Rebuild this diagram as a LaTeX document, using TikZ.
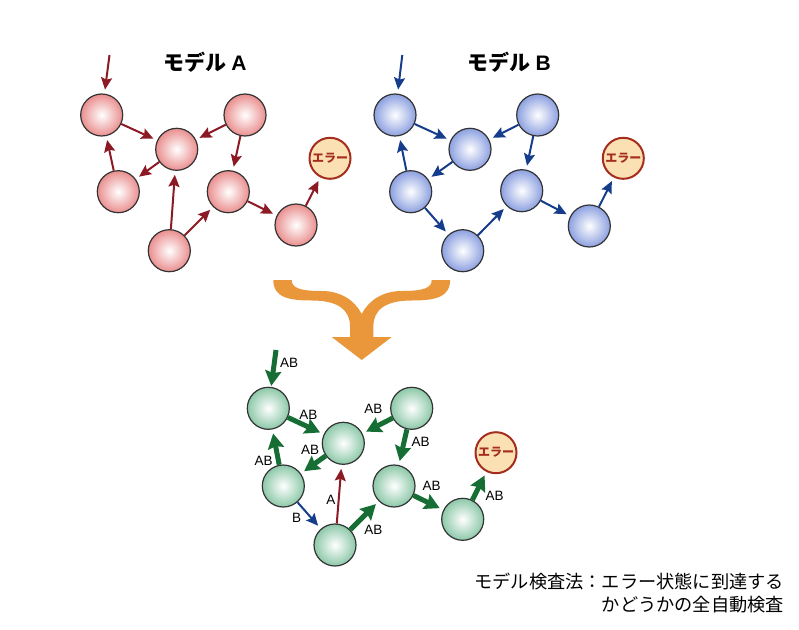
\documentclass[tikz,border=0pt]{standalone}
\usepackage{fontspec}
\setmainfont{Noto Sans CJK JP}
\newfontfamily\latinfont{Liberation Sans}
\usetikzlibrary{arrows.meta}

\definecolor{redA}{RGB}{140,26,36}
\definecolor{blueB}{RGB}{22,60,140}
\definecolor{greenAB}{RGB}{22,110,52}
\definecolor{pinkfill}{RGB}{234,142,142}
\definecolor{bluefill}{RGB}{140,160,224}
\definecolor{greenfill}{RGB}{140,200,168}
\definecolor{errfill}{RGB}{250,224,178}
\definecolor{errline}{RGB}{165,45,30}
\definecolor{mergeorange}{RGB}{234,151,59}

\tikzset{
  state/.style={circle, draw=black!80, line width=1.2pt, minimum size=42pt, inner sep=0pt},
  stateA/.style={state, inner color=white, outer color=pinkfill},
  stateB/.style={state, inner color=white, outer color=bluefill},
  stateAB/.style={state, inner color=white, outer color=greenfill},
  errnode/.style={circle, draw=errline, line width=2pt, fill=errfill, minimum size=41pt, inner sep=0pt,
    text=errline, font=\fontsize{12}{12}\selectfont\bfseries},
  arrA/.style={line width=2pt, draw=redA, fill=redA, -{Stealth[length=12pt,width=11pt,inset=2pt]}, shorten >=4pt},
  arrB/.style={line width=2pt, draw=blueB, fill=blueB, -{Stealth[length=12pt,width=11pt,inset=2pt]}, shorten >=4pt},
  arrAB/.style={line width=5pt, draw=greenAB, fill=greenAB, -{Stealth[length=15pt,width=16pt,inset=2pt]}, shorten >=4pt},
  lbl/.style={font=\latinfont\fontsize{13.5}{13.5}\selectfont, inner sep=0pt},
  title/.style={font=\fontsize{21}{21}\selectfont\bfseries, inner sep=0pt}
}

\begin{document}
\begin{tikzpicture}[x=1pt, y=-1pt]
\useasboundingbox (0,0) rectangle (799,629);

% Model A
\node[title] (titleA) at (205,62.5) {モデル\hspace{5pt}{\latinfont A}};
\coordinate (inA) at (109.5,55);
\node[stateA] (a1) at (101.7,115) {};
\node[stateA] (a2) at (176.7,149.3) {};
\node[stateA] (a3) at (245,115) {};
\node[stateA] (a4) at (118.3,191.7) {};
\node[stateA] (a5) at (228.3,191.7) {};
\node[stateA] (a6) at (169.3,250.7) {};
\node[stateA] (a7) at (296,225) {};
\node[errnode] (errA) at (330,158.3) {エラー};

\draw[arrA] (inA) -- (a1);
\draw[arrA] (a1) -- (a2);
\draw[arrA] (a3) -- (a2);
\draw[arrA] (a2) -- (a4);
\draw[arrA] (a4) -- (a1);
\draw[arrA] (a3) -- (a5);
\draw[arrA] (a6) -- (a2);
\draw[arrA] (a6) -- (a5);
\draw[arrA] (a5) -- (a7);
\draw[arrA] (a7) -- (errA);

% Model B
\node[title] (titleB) at (509.2,62.5) {モデル\hspace{5pt}{\latinfont B}};
\coordinate (inB) at (402.3,55);
\node[stateB] (b1) at (395,115) {};
\node[stateB] (b2) at (470,149.3) {};
\node[stateB] (b3) at (537.7,115) {};
\node[stateB] (b4) at (410.7,191.7) {};
\node[stateB] (b5) at (521.7,190.7) {};
\node[stateB] (b6) at (462.7,250.7) {};
\node[stateB] (b7) at (589.3,226) {};
\node[errnode] (errB) at (623.3,158.3) {エラー};

\draw[arrB] (inB) -- (b1);
\draw[arrB] (b1) -- (b2);
\draw[arrB] (b3) -- (b2);
\draw[arrB] (b2) -- (b4);
\draw[arrB] (b4) -- (b1);
\draw[arrB] (b3) -- (b5);
\draw[arrB] (b4) -- (b6);
\draw[arrB] (b6) -- (b5);
\draw[arrB] (b5) -- (b7);
\draw[arrB] (b7) -- (errB);

% Merge arrow (orange)
\fill[mergeorange] (273.3,280) .. controls (273.3,298) and (290,300.5) .. (312,300.5)
  .. controls (338,300.5) and (350,310) .. (350,326)
  -- (350,337) -- (331.7,337) -- (361.7,360) -- (391.7,337) -- (373.4,337) -- (373.4,326)
  .. controls (373.4,310) and (385.4,300.5) .. (411.4,300.5)
  .. controls (433.4,300.5) and (450.1,298) .. (450.1,280)
  -- (431.7,280)
  .. controls (431.7,288) and (423.4,291) .. (401.4,291)
  .. controls (383.4,291) and (368.7,300) .. (361.7,314)
  .. controls (354.7,300) and (340,291) .. (322,291)
  .. controls (300,291) and (291.7,288) .. (291.7,280) -- cycle;

% Combined model
\coordinate (inC) at (276,350);
\node[stateAB] (c1) at (268.3,408.3) {};
\node[stateAB] (c2) at (343.3,443.3) {};
\node[stateAB] (c3) at (411.7,408.3) {};
\node[stateAB] (c4) at (283.3,486) {};
\node[stateAB] (c5) at (394,486) {};
\node[stateAB] (c6) at (335,545) {};
\node[stateAB] (c7) at (462.7,519.3) {};
\node[errnode] (errC) at (496,452.7) {エラー};

\draw[arrAB, shorten >=1pt] (inC) -- (c1);
\draw[arrAB] (c1) -- (c2);
\draw[arrAB] (c3) -- (c2);
\draw[arrAB] (c2) -- (c4);
\draw[arrAB] (c4) -- (c1);
\draw[arrAB] (c3) -- (c5);
\draw[arrB] (c4) -- (c6);
\draw[arrA] (c6) -- (c2);
\draw[arrAB] (c6) -- (c5);
\draw[arrAB] (c5) -- (c7);
\draw[arrAB] (c7) -- (errC);

% Edge labels
\node[lbl] (lin) at (289.2,362.8) {AB};
\node[lbl] (l12) at (308.3,414.5) {AB};
\node[lbl] (l32) at (373.3,408.7) {AB};
\node[lbl] (l35) at (420.5,442.2) {AB};
\node[lbl] (l24) at (310,450.3) {AB};
\node[lbl] (l41) at (263.5,461.2) {AB};
\node[lbl] (l62) at (330.8,500) {A};
\node[lbl] (l46) at (296.7,517.7) {B};
\node[lbl] (l65) at (373.3,529.5) {AB};
\node[lbl] (l57) at (431.7,486) {AB};
\node[lbl] (l7e) at (494.5,496.3) {AB};

% Caption
\node[anchor=north east, align=right, inner sep=0pt, font=\fontsize{18.2}{23}\selectfont] (caption)
  at (784,573) {モデル検査法：エラー状態に到達する\\かどうかの全自動検査};

\end{tikzpicture}
\end{document}
